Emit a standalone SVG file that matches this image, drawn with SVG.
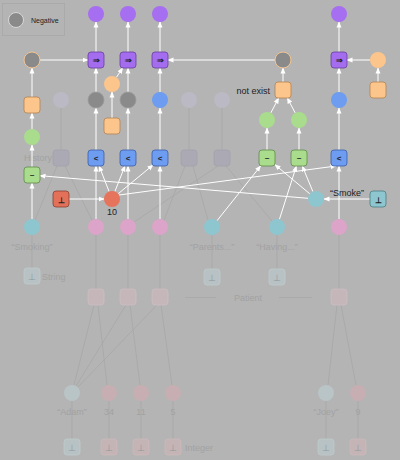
<svg xmlns="http://www.w3.org/2000/svg" width="400" height="460" viewBox="0 0 400 460">
<defs>
<marker id="ah" markerWidth="6" markerHeight="6" refX="5.5" refY="3" orient="auto" markerUnits="userSpaceOnUse"><path d="M0,0.5 L6,3 L0,5.5 z" fill="#ffffff"/></marker>
<style>
text{font-family:"Liberation Sans",Arial,sans-serif}
.e{stroke:#ffffff;stroke-width:1;fill:none;marker-end:url(#ah)}
.fe{stroke:#a7a7a7;stroke-width:0.8;fill:none}
.lbl{font-size:9px;fill:#222}
.flbl{font-size:9px;fill:#a2a2a2;text-anchor:middle}
.sym{font-size:8px;fill:#222;text-anchor:middle;font-weight:bold}
.pc{fill:#a66ef0}
.pb{fill:#a46cee;stroke:#6a3f9c;stroke-width:0.8}
.gc{fill:#8a8a8a;stroke:#9c9c9c;stroke-width:0.8}
.go{fill:#8a8a8a;stroke:#f3c594;stroke-width:1}
.oc{fill:#fcc58c}
.ob{fill:#fcc58c;stroke:#b48350;stroke-width:0.8}
.grc{fill:#a9dc8d}
.grb{fill:#a9dc8d;stroke:#5f8a4a;stroke-width:0.8}
.bc{fill:#6d9cf0}
.bb{fill:#6d9cf0;stroke:#3b5ea6;stroke-width:0.8}
.rc{fill:#e6735b}
.rb{fill:#e3715a;stroke:#8a4030;stroke-width:0.8}
.tc{fill:#8ec6cf}
.tb{fill:#8ec6cf;stroke:#4a7c84;stroke-width:0.8}
.pk{fill:#dba4c8}
.fc{fill:#bbb9c3}
.fb{fill:#aba9b3;stroke:#a3a1ab;stroke-width:0.8}
.fpb{fill:#c5b6ba;stroke:#cbbec2;stroke-width:0.8}
.fpc{fill:#c7aeb2}
.ftc{fill:#b9c4c6}
.ftb{fill:#b8c2c4;stroke:#bfcacc;stroke-width:0.8}
.fpx{fill:#c5b4b6;stroke:#cbbabd;stroke-width:0.8}
.fsym{font-size:9px;fill:#8e9a9c;text-anchor:middle}
</style>
</defs>
<rect width="400" height="460" fill="#b4b4b4"/>
<g id="legend">
<rect x="2.5" y="3.5" width="62" height="32" fill="none" stroke="#a9a9a9" stroke-width="0.8"/>
<circle cx="16" cy="20" r="7.5" fill="#8a8a8a" stroke="#d8d8d8" stroke-width="1"/>
<text x="31" y="22.5" font-size="7" fill="#222">Negative</text>
</g>
<g id="faded-connectors">
<line class="fe" x1="61" y1="108" x2="61" y2="150"/>
<line class="fe" x1="189" y1="108" x2="189" y2="150"/>
<line class="fe" x1="222" y1="108" x2="222" y2="150"/>
<line class="fe" x1="57" y1="166" x2="35" y2="220"/>
<line class="fe" x1="65" y1="166" x2="92" y2="220"/>
<line class="fe" x1="185" y1="166" x2="164" y2="220"/>
<line class="fe" x1="193" y1="166" x2="208" y2="220"/>
<line class="fe" x1="218" y1="166" x2="134" y2="222"/>
<line class="fe" x1="226" y1="166" x2="272" y2="221"/>
<line class="fe" x1="32" y1="235" x2="32" y2="268"/>
<line class="fe" x1="212" y1="235" x2="212" y2="269"/>
<line class="fe" x1="277" y1="235" x2="277" y2="269"/>
<line class="fe" x1="96" y1="235" x2="96" y2="289"/>
<line class="fe" x1="128" y1="235" x2="128" y2="289"/>
<line class="fe" x1="160" y1="235" x2="160" y2="289"/>
<line class="fe" x1="339" y1="235" x2="339" y2="289"/>
<line class="fe" x1="185" y1="297.5" x2="216" y2="297.5"/>
<line class="fe" x1="279" y1="297.5" x2="312" y2="297.5"/>
<line class="fe" x1="94" y1="305" x2="74" y2="385"/>
<line class="fe" x1="98" y1="305" x2="107" y2="385"/>
<line class="fe" x1="126" y1="305" x2="76" y2="386"/>
<line class="fe" x1="130" y1="305" x2="140" y2="385"/>
<line class="fe" x1="157" y1="305" x2="78" y2="387"/>
<line class="fe" x1="161" y1="305" x2="172" y2="385"/>
<line class="fe" x1="337" y1="305" x2="328" y2="385"/>
<line class="fe" x1="341" y1="305" x2="356" y2="385"/>
<line class="fe" x1="72" y1="401" x2="72" y2="439"/>
<line class="fe" x1="109" y1="401" x2="109" y2="439"/>
<line class="fe" x1="141" y1="401" x2="141" y2="439"/>
<line class="fe" x1="173" y1="401" x2="173" y2="439"/>
<line class="fe" x1="326" y1="401" x2="326" y2="439"/>
<line class="fe" x1="358" y1="401" x2="358" y2="439"/>
</g>
<g id="faded-nodes">
<circle class="fc" cx="61" cy="100" r="8"/>
<circle class="fc" cx="189" cy="100" r="8"/>
<circle class="fc" cx="222" cy="100" r="8"/>
<rect class="fb" x="53" y="150" width="16" height="16" rx="3"/>
<rect class="fb" x="181" y="150" width="16" height="16" rx="3"/>
<rect class="fb" x="214" y="150" width="16" height="16" rx="3"/>
<text class="flbl" x="38" y="161">History</text>
<text class="flbl" x="32" y="250">“Smoking”</text>
<text class="flbl" x="212" y="250">“Parents...”</text>
<text class="flbl" x="277" y="250">“Having...”</text>
<rect class="ftb" x="24" y="268" width="16" height="16" rx="3"/><text class="fsym" x="32" y="280">⊥</text>
<text x="42" y="280" font-size="9" fill="#a2a2a2">String</text>
<rect class="ftb" x="204" y="269" width="16" height="16" rx="3"/><text class="fsym" x="212" y="281">⊥</text>
<rect class="ftb" x="269" y="269" width="16" height="16" rx="3"/><text class="fsym" x="277" y="281">⊥</text>
<rect class="fpb" x="88" y="289" width="16" height="16" rx="3"/>
<rect class="fpb" x="120" y="289" width="16" height="16" rx="3"/>
<rect class="fpb" x="152" y="289" width="16" height="16" rx="3"/>
<rect class="fpb" x="331" y="289" width="16" height="16" rx="3"/>
<text class="flbl" x="248" y="301">Patient</text>
<circle class="ftc" cx="72" cy="393" r="8"/>
<circle class="fpc" cx="109" cy="393" r="8"/>
<circle class="fpc" cx="141" cy="393" r="8"/>
<circle class="fpc" cx="173" cy="393" r="8"/>
<circle class="ftc" cx="326" cy="393" r="8"/>
<circle class="fpc" cx="358" cy="393" r="8"/>
<text class="flbl" x="72" y="415">“Adam”</text>
<text class="flbl" x="109" y="415">34</text>
<text class="flbl" x="141" y="415">11</text>
<text class="flbl" x="173" y="415">5</text>
<text class="flbl" x="326" y="415">“Joey”</text>
<text class="flbl" x="358" y="415">9</text>
<rect class="ftb" x="64" y="439" width="16" height="16" rx="3"/><text class="fsym" x="72" y="451">⊥</text>
<rect class="fpx" x="101" y="439" width="16" height="16" rx="3"/><text class="fsym" x="109" y="451" fill="#a09092">⊥</text>
<rect class="fpx" x="133" y="439" width="16" height="16" rx="3"/><text class="fsym" x="141" y="451">⊥</text>
<rect class="fpx" x="165" y="439" width="16" height="16" rx="3"/><text class="fsym" x="173" y="451">⊥</text>
<text x="185" y="451" font-size="9" fill="#a2a2a2">Integer</text>
<rect class="ftb" x="318" y="439" width="16" height="16" rx="3"/><text class="fsym" x="326" y="451">⊥</text>
<rect class="fpx" x="350" y="439" width="16" height="16" rx="3"/><text class="fsym" x="358" y="451">⊥</text>
</g>
<g id="connectors">
<line class="e" x1="40" y1="60" x2="88" y2="60"/>
<line class="e" x1="275" y1="60" x2="168" y2="60"/>
<line class="e" x1="370" y1="60" x2="347" y2="60"/>
<line class="e" x1="378" y1="82" x2="378" y2="68"/>
<line class="e" x1="96" y1="52" x2="96" y2="22"/>
<line class="e" x1="128" y1="52" x2="128" y2="22"/>
<line class="e" x1="160" y1="52" x2="160" y2="22"/>
<line class="e" x1="339" y1="52" x2="339" y2="22"/>
<line class="e" x1="96" y1="92" x2="96" y2="68"/>
<line class="e" x1="128" y1="92" x2="128" y2="68"/>
<line class="e" x1="160" y1="92" x2="160" y2="68"/>
<line class="e" x1="339" y1="92" x2="339" y2="68"/>
<line class="e" x1="116.4" y1="77.3" x2="122.7" y2="68"/>
<line class="e" x1="112" y1="118" x2="112" y2="92"/>
<line class="e" x1="32" y1="97" x2="32" y2="68"/>
<line class="e" x1="32" y1="129" x2="32" y2="113"/>
<line class="e" x1="32" y1="167" x2="32" y2="145"/>
<line class="e" x1="32" y1="219" x2="32" y2="183"/>
<line class="e" x1="96" y1="150" x2="96" y2="108"/>
<line class="e" x1="128" y1="150" x2="128" y2="108"/>
<line class="e" x1="160" y1="150" x2="160" y2="108"/>
<line class="e" x1="339" y1="150" x2="339" y2="108"/>
<line class="e" x1="96" y1="219" x2="96" y2="166"/>
<line class="e" x1="128" y1="219" x2="128" y2="166"/>
<line class="e" x1="160" y1="219" x2="160" y2="166"/>
<line class="e" x1="339" y1="219" x2="339" y2="166"/>
<line class="e" x1="109.1" y1="191.5" x2="99.1" y2="166"/>
<line class="e" x1="114.9" y1="191.5" x2="124.9" y2="166"/>
<line class="e" x1="118.1" y1="193.8" x2="153" y2="165"/>
<line class="e" x1="119" y1="195" x2="336" y2="166"/>
<line class="e" x1="308" y1="198.3" x2="40" y2="175.7"/>
<line class="e" x1="309.9" y1="193.9" x2="275" y2="164.7"/>
<line class="e" x1="312.9" y1="191.6" x2="302.3" y2="166"/>
<line class="e" x1="217" y1="220.7" x2="260.6" y2="166"/>
<line class="e" x1="279.4" y1="219.4" x2="296.4" y2="166"/>
<line class="e" x1="370" y1="199" x2="324" y2="199"/>
<line class="e" x1="69" y1="199" x2="104" y2="199"/>
<line class="e" x1="267" y1="150" x2="267" y2="128"/>
<line class="e" x1="299" y1="150" x2="299" y2="128"/>
<line class="e" x1="270.8" y1="112.9" x2="278.7" y2="98"/>
<line class="e" x1="295.2" y1="112.9" x2="287.3" y2="98"/>
<line class="e" x1="283" y1="82" x2="283" y2="68"/>
</g>
<g id="n-purple1"><circle class="pc" cx="96" cy="14" r="8"/></g>
<g id="n-purple2"><circle class="pc" cx="128" cy="14" r="8"/></g>
<g id="n-purple3"><circle class="pc" cx="160" cy="14" r="8"/></g>
<g id="n-purple4"><circle class="pc" cx="339" cy="14" r="8"/></g>
<g id="n-imp1"><rect class="pb" x="88" y="52" width="16" height="16" rx="3"/><text class="sym" x="96" y="63">⇒</text></g>
<g id="n-imp2"><rect class="pb" x="120" y="52" width="16" height="16" rx="3"/><text class="sym" x="128" y="63">⇒</text></g>
<g id="n-imp3"><rect class="pb" x="152" y="52" width="16" height="16" rx="3"/><text class="sym" x="160" y="63">⇒</text></g>
<g id="n-imp4"><rect class="pb" x="331" y="52" width="16" height="16" rx="3"/><text class="sym" x="339" y="63">⇒</text></g>
<g id="n-neg1"><circle class="go" cx="32" cy="60" r="8"/></g>
<g id="n-neg2"><circle class="go" cx="283" cy="60" r="8"/></g>
<g id="n-ocirc1"><circle class="oc" cx="112" cy="84" r="8"/></g>
<g id="n-ocirc2"><circle class="oc" cx="378" cy="60" r="8"/></g>
<g id="n-obox1"><rect class="ob" x="24" y="97" width="16" height="16" rx="3"/></g>
<g id="n-obox2"><rect class="ob" x="104" y="118" width="16" height="16" rx="3"/></g>
<g id="n-obox3"><rect class="ob" x="275" y="82" width="16" height="16" rx="3"/><text class="lbl" x="270" y="94" text-anchor="end">not exist</text></g>
<g id="n-obox4"><rect class="ob" x="370" y="82" width="16" height="16" rx="3"/></g>
<g id="n-gray1"><circle class="gc" cx="96" cy="100" r="8"/></g>
<g id="n-gray2"><circle class="gc" cx="128" cy="100" r="8"/></g>
<g id="n-blue1"><circle class="bc" cx="160" cy="100" r="8"/></g>
<g id="n-blue2"><circle class="bc" cx="339" cy="100" r="8"/></g>
<g id="n-green1"><circle class="grc" cx="32" cy="137" r="8"/></g>
<g id="n-green2"><circle class="grc" cx="267" cy="120" r="8"/></g>
<g id="n-green3"><circle class="grc" cx="299" cy="120" r="8"/></g>
<g id="n-lt1"><rect class="bb" x="88" y="150" width="16" height="16" rx="3"/><text class="sym" x="96" y="161">&lt;</text></g>
<g id="n-lt2"><rect class="bb" x="120" y="150" width="16" height="16" rx="3"/><text class="sym" x="128" y="161">&lt;</text></g>
<g id="n-lt3"><rect class="bb" x="152" y="150" width="16" height="16" rx="3"/><text class="sym" x="160" y="161">&lt;</text></g>
<g id="n-lt4"><rect class="bb" x="331" y="150" width="16" height="16" rx="3"/><text class="sym" x="339" y="161">&lt;</text></g>
<g id="n-sim1"><rect class="grb" x="24" y="167" width="16" height="16" rx="3"/><text class="sym" x="32" y="178">~</text></g>
<g id="n-sim2"><rect class="grb" x="259" y="150" width="16" height="16" rx="3"/><text class="sym" x="267" y="161">~</text></g>
<g id="n-sim3"><rect class="grb" x="291" y="150" width="16" height="16" rx="3"/><text class="sym" x="299" y="161">~</text></g>
<g id="n-redbot"><rect class="rb" x="53" y="191" width="16" height="16" rx="3"/><text class="sym" x="61" y="203" font-weight="normal" font-size="10">⊥</text></g>
<g id="n-ten"><circle class="rc" cx="112" cy="199" r="8"/><text class="lbl" x="112" y="215" text-anchor="middle">10</text></g>
<g id="n-smoke"><circle class="tc" cx="316" cy="199" r="8"/><text class="lbl" x="347" y="196" text-anchor="middle">“Smoke”</text></g>
<g id="n-tealbot"><rect class="tb" x="370" y="191" width="16" height="16" rx="3"/><text class="sym" x="378" y="203" font-weight="normal" font-size="10">⊥</text></g>
<g id="n-smoking"><circle class="tc" cx="32" cy="227" r="8"/></g>
<g id="n-parents"><circle class="tc" cx="212" cy="227" r="8"/></g>
<g id="n-having"><circle class="tc" cx="277" cy="227" r="8"/></g>
<g id="n-pink1"><circle class="pk" cx="96" cy="227" r="8"/></g>
<g id="n-pink2"><circle class="pk" cx="128" cy="227" r="8"/></g>
<g id="n-pink3"><circle class="pk" cx="160" cy="227" r="8"/></g>
<g id="n-pink4"><circle class="pk" cx="339" cy="227" r="8"/></g>
</svg>
